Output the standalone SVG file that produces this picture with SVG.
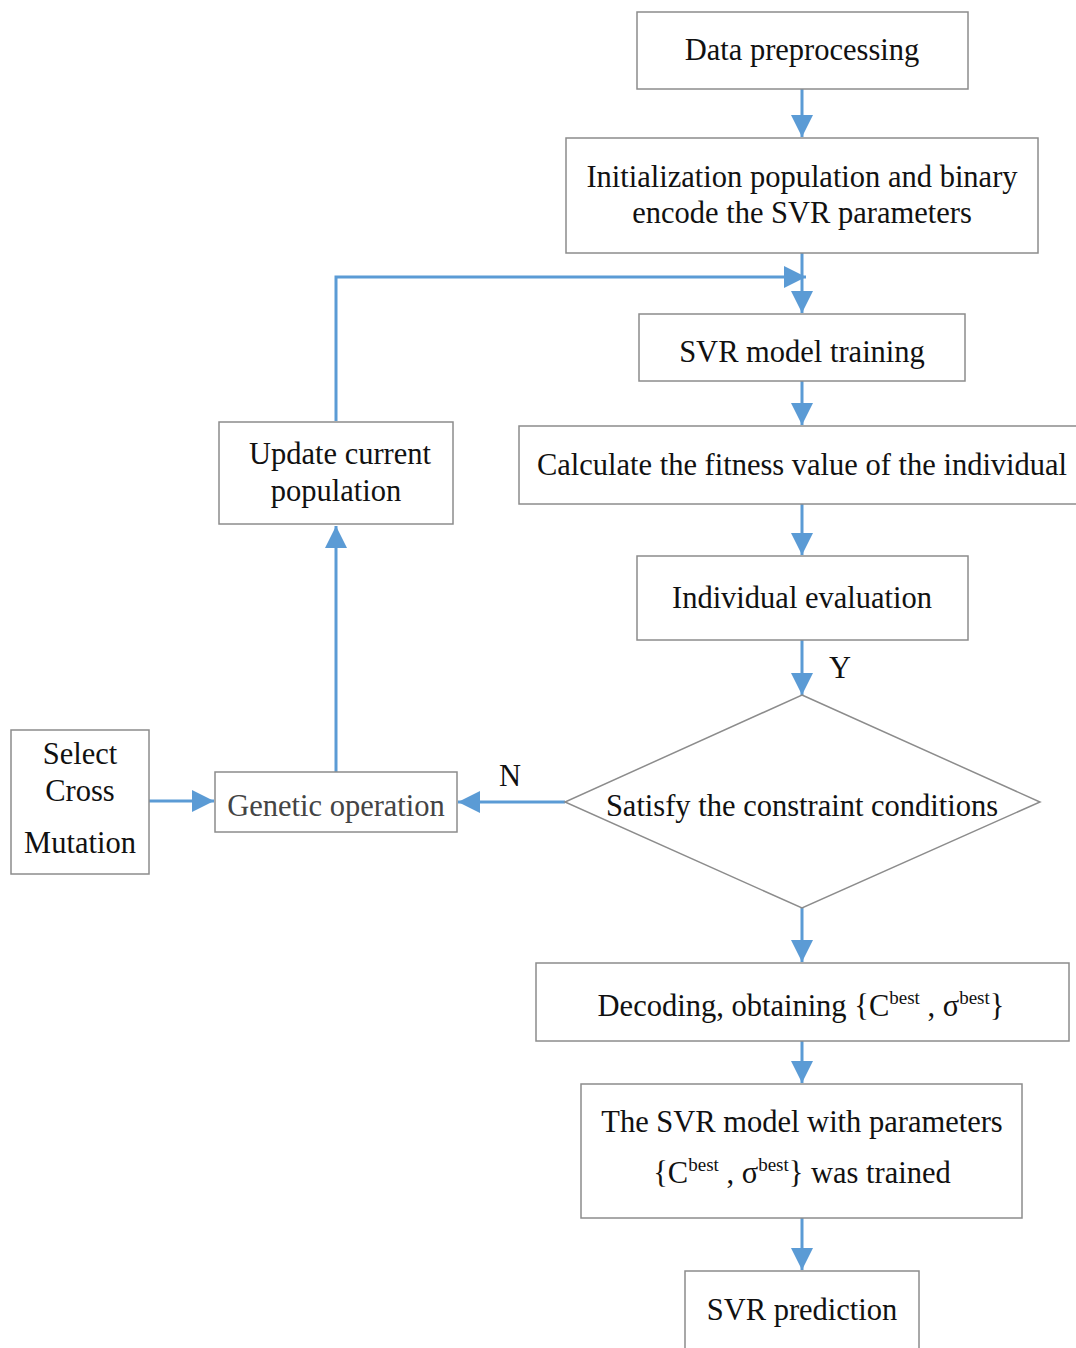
<svg xmlns="http://www.w3.org/2000/svg" width="1076" height="1348" viewBox="0 0 1076 1348">
<style>
.box{fill:#fff;stroke:#8c8c8c;stroke-width:1.5}
.t{font-family:"Liberation Serif","Times New Roman",serif;font-size:30.5px;fill:#111;text-anchor:middle}
.sup{font-size:19px}
.c{fill:none;stroke:#5b9bd5;stroke-width:3}
</style>
<defs>
<marker id="ah" markerUnits="userSpaceOnUse" markerWidth="22" markerHeight="22" viewBox="0 0 20 20" refX="20" refY="10" orient="auto">
<path d="M0,0 L20,10 L0,20 Z" fill="#5b9bd5"/>
</marker>
</defs>
<rect width="1076" height="1348" fill="#fff"/>
<g id="connectors">
<line class="c" x1="802" y1="89" x2="802" y2="137" marker-end="url(#ah)"/>
<line class="c" x1="802" y1="253" x2="802" y2="313" marker-end="url(#ah)"/>
<polyline class="c" points="336,421 336,277 806,277" marker-end="url(#ah)"/>
<line class="c" x1="802" y1="381" x2="802" y2="425" marker-end="url(#ah)"/>
<line class="c" x1="802" y1="504" x2="802" y2="555" marker-end="url(#ah)"/>
<line class="c" x1="802" y1="640" x2="802" y2="695" marker-end="url(#ah)"/>
<line class="c" x1="565" y1="802" x2="458" y2="802" marker-end="url(#ah)"/>
<line class="c" x1="149" y1="801" x2="214" y2="801" marker-end="url(#ah)"/>
<line class="c" x1="336" y1="772" x2="336" y2="526" marker-end="url(#ah)"/>
<line class="c" x1="802" y1="908" x2="802" y2="962" marker-end="url(#ah)"/>
<line class="c" x1="802" y1="1041" x2="802" y2="1083" marker-end="url(#ah)"/>
<line class="c" x1="802" y1="1218" x2="802" y2="1270" marker-end="url(#ah)"/>
<text class="t" x="840" y="678">Y</text>
<text class="t" x="510" y="786">N</text>
</g>
<g id="n1"><rect class="box" x="637" y="12" width="331" height="77"/><text class="t" x="802" y="60">Data preprocessing</text></g>
<g id="n2"><rect class="box" x="566" y="138" width="472" height="115"/><text class="t" x="802" y="187">Initialization population and binary</text><text class="t" x="802" y="223">encode the SVR parameters</text></g>
<g id="n3"><rect class="box" x="639" y="314" width="326" height="67"/><text class="t" x="802" y="362">SVR model training</text></g>
<g id="n4"><rect class="box" x="519" y="426" width="560" height="78"/><text class="t" x="802" y="475">Calculate the fitness value of the individual</text></g>
<g id="n5"><rect class="box" x="637" y="556" width="331" height="84"/><text class="t" x="802" y="608">Individual evaluation</text></g>
<g id="n6"><polygon class="box" points="802,695 1040,802 802,908 565,802"/><text class="t" x="802" y="816">Satisfy the constraint conditions</text></g>
<g id="n7"><rect class="box" x="215" y="772" width="242" height="60"/><text class="t" x="336" y="816" style="fill:#444">Genetic operation</text></g>
<g id="n8"><rect class="box" x="11" y="730" width="138" height="144"/><text class="t" x="80" y="764">Select</text><text class="t" x="80" y="801">Cross</text><text class="t" x="80" y="853">Mutation</text></g>
<g id="n9"><rect class="box" x="219" y="422" width="234" height="102"/><text class="t" x="340" y="464">Update current</text><text class="t" x="336" y="501">population</text></g>
<g id="n10"><rect class="box" x="536" y="963" width="533" height="78"/><text class="t" x="801" y="1016">Decoding, obtaining {C<tspan class="sup" dy="-12">best</tspan><tspan dy="12"> , σ</tspan><tspan class="sup" dy="-12">best</tspan><tspan dy="12">}</tspan></text></g>
<g id="n11"><rect class="box" x="581" y="1084" width="441" height="134"/><text class="t" x="802" y="1132">The SVR model with parameters</text><text class="t" x="802" y="1183">{C<tspan class="sup" dy="-12">best</tspan><tspan dy="12"> , σ</tspan><tspan class="sup" dy="-12">best</tspan><tspan dy="12">}  was trained</tspan></text></g>
<g id="n12"><rect class="box" x="685" y="1271" width="234" height="90"/><text class="t" x="802" y="1320">SVR prediction</text></g>
</svg>
